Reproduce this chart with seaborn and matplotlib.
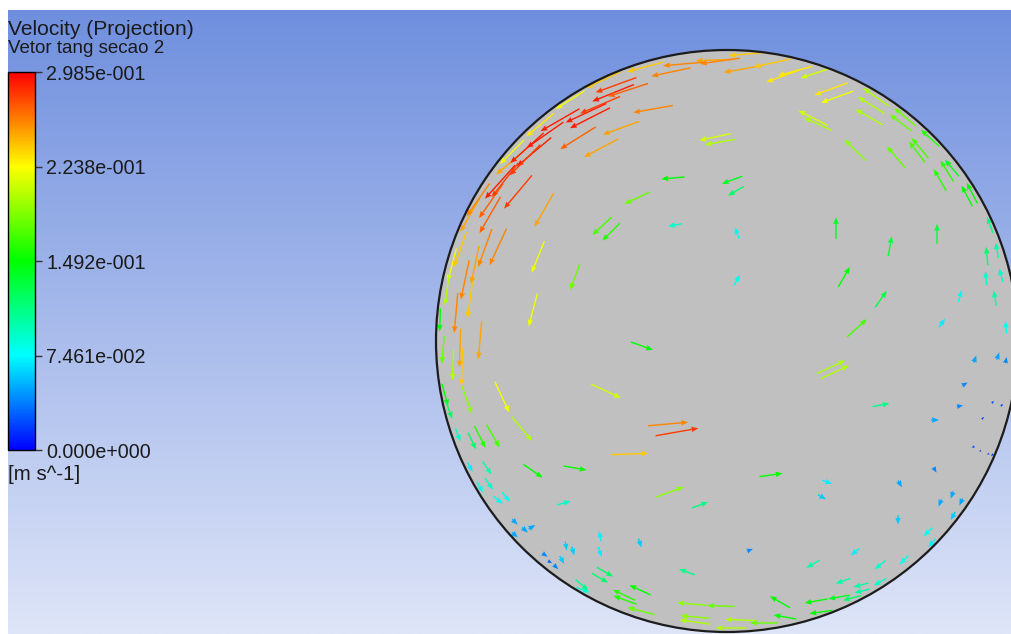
import numpy as np
import matplotlib
matplotlib.use("Agg")
import matplotlib.pyplot as plt
import seaborn as sns
from matplotlib.patches import Circle
from matplotlib.colors import Normalize, LinearSegmentedColormap
from matplotlib.cm import ScalarMappable

# ---------------------------------------------------------------------------
# Tangential velocity vectors on section 2 (pipe radius 291 mm, origin at centre)
# x, y in mm, speed in m/s, direction in degrees (counter-clockwise from +x)
# ---------------------------------------------------------------------------
x_mm = [
    -12, -44, -56, -82, -111, -114, -141, -137, -74, -106,
    -149, -126, -182, -193, -202, -216, -236, -227, -209, -183,
    -242, -229, -252, -189, -152, -125, -116, -90, -54, -52,
    -12, -7, 5, 9, 10, 20, -7, 16, 56, 45,
    68, 104, 110, 89, 149, 144, 142, 178, 174, 86,
    91, 128, 169, 193, 190, 203, 213, 220, 225, 240,
    245, 263, 260, 270, 274, 259, 268, 279, 210, 109,
    163, 10, 117, 154, 130, 215, 233, 104, 108, 154,
    208, 44, 100, 95, -27, -85, -121, -59, -50, -97,
    -57, -152, -194, -163, -271, -267, -265, -284, -274, -247,
    -194, -260, -225, -205, -247, -234, -269, -255, -240, -238,
    -247, -229, -221, -212, -195, -127, -127, -87, -161, -154,
    -165, -171, -145, -127, -122, -103, -102, -87, -86, -35,
    -32, -32, -6, -40, 14, 4, 37, 53, 58, 86,
    128, 153, 177, 116, 134, 135, 112, 89, 94, 125,
    153, 205, 201, 171, 213, 225, 234, 226, 173, 208,
    23, 248, 271, 279, 238, 233, 266, 275, 256, 246,
    253, 261, 265, -282, -278, -257, -212, -202, -182, -177,
    -144, -275, -267, -280, -257, -249, -262, -287, -124, -157,
    -187, -215, -167, -200, -222, -237, -127, -99, -257,
]
y_mm = [
    281, 277, 269, 274, 256, 248, 228, 223, 232, 213,
    203, 193, 206, 189, 181, 179, 140, 159, 149, 131,
    93, 94, 76, 84, 64, 115, 109, 143, 163, 116,
    204, 199, 161, 150, 108, 287, 280, 272, 265, 278,
    270, 252, 244, 268, 244, 236, 224, 224, 218, 223,
    217, 191, 184, 193, 189, 203, 161, 170, 173, 145,
    148, 116, 85, 91, 66, 63, 43, 14, 107, 113,
    95, 61, 64, 42, 13, 18, 45, -26, -31, -64,
    -79, -134, -141, -156, -164, -5, -50, -83, -91, -113,
    -151, -127, -130, -162, 28, -7, -26, -9, -24, 1,
    31, -59, -56, -88, -96, -95, -94, -100, -127, -143,
    -146, -159, -156, -194, -186, -195, -211, -202, -205, -210,
    -219, -226, -244, -237, -231, -254, -259, -249, -270, -263,
    -276, -281, -265, -231, -279, -287, -282, -261, -276, -223,
    -211, -224, -219, -240, -244, -250, -256, -260, -271, -257,
    -241, -202, -191, -179, -162, -154, -161, -175, -143, -129,
    -209, -18, -15, -19, -43, -65, -61, -64, -77, -106,
    -110, -113, -114, -54, -69, -126, -181, -189, -214, -221,
    -249, 76, 91, 51, 126, 141, 61, 21, 261, 241,
    216, 189, 221, 193, 161, 126, 236, 251, 41,
]
speed = [
    0.25, 0.26, 0.26, 0.24, 0.28, 0.29, 0.29, 0.29, 0.26, 0.25,
    0.27, 0.25, 0.29, 0.29, 0.28, 0.25, 0.27, 0.29, 0.28, 0.25,
    0.26, 0.26, 0.25, 0.22, 0.18, 0.17, 0.16, 0.18, 0.15, 0.09,
    0.21, 0.20, 0.14, 0.12, 0.08, 0.24, 0.26, 0.25, 0.23, 0.24,
    0.23, 0.23, 0.22, 0.21, 0.20, 0.20, 0.20, 0.18, 0.18, 0.21,
    0.20, 0.19, 0.18, 0.17, 0.17, 0.16, 0.16, 0.16, 0.14, 0.15,
    0.15, 0.11, 0.12, 0.10, 0.09, 0.09, 0.10, 0.08, 0.13, 0.14,
    0.13, 0.08, 0.15, 0.13, 0.17, 0.07, 0.08, 0.20, 0.20, 0.11,
    0.05, 0.15, 0.07, 0.06, 0.11, 0.15, 0.21, 0.26, 0.28, 0.24,
    0.19, 0.15, 0.15, 0.09, 0.26, 0.25, 0.24, 0.18, 0.20, 0.25,
    0.22, 0.19, 0.22, 0.20, 0.16, 0.17, 0.09, 0.12, 0.10, 0.09,
    0.08, 0.08, 0.08, 0.05, 0.05, 0.07, 0.07, 0.06, 0.06, 0.06,
    0.06, 0.04, 0.11, 0.12, 0.12, 0.16, 0.16, 0.15, 0.18, 0.19,
    0.19, 0.20, 0.18, 0.11, 0.20, 0.20, 0.18, 0.15, 0.15, 0.10,
    0.07, 0.09, 0.08, 0.10, 0.10, 0.10, 0.14, 0.15, 0.15, 0.12,
    0.09, 0.07, 0.08, 0.06, 0.05, 0.05, 0.05, 0.06, 0.05, 0.04,
    0.04, 0.05, 0.05, 0.04, 0.04, 0.04, 0.02, 0.02, 0.02, 0.02,
    0.015, 0.015, 0.02, 0.15, 0.12, 0.07, 0.05, 0.05, 0.04, 0.03,
    0.09, 0.22, 0.24, 0.20, 0.25, 0.26, 0.26, 0.15, 0.24, 0.22,
    0.23, 0.22, 0.29, 0.29, 0.28, 0.27, 0.28, 0.27, 0.24,
]
direction_deg = [
    182, 185, 192, 195, 200, 202, 205, 207, 190, 200,
    212, 208, 215, 220, 225, 220, 235, 228, 230, 240,
    250, 245, 258, 248, 250, 223, 225, 205, 185, 190,
    192, 190, 200, 210, 110, 185, 188, 190, 200, 192,
    195, 200, 200, 198, 145, 148, 150, 140, 143, 153,
    155, 135, 130, 130, 128, 138, 120, 122, 130, 118,
    118, 110, 95, 100, 105, 95, 100, 95, 90, 90,
    80, 60, 60, 55, 42, 55, 75, 25, 25, 10,
    0, 8, 340, 330, 20, 340, 335, 5, 10, 2,
    20, 350, 325, 15, 265, 268, 268, 265, 268, 265,
    255, 290, 295, 310, 297, 300, 290, 295, 305, 305,
    300, 320, 310, 320, 30, 100, 290, 290, 280, 285,
    300, 315, 320, 330, 330, 155, 160, 155, 165, 175,
    175, 172, 178, 160, 178, 180, 180, 150, 170, 210,
    220, 220, 225, 200, 195, 195, 190, 190, 188, 195,
    210, 230, 225, 270, 250, 250, 245, 240, 300, 300,
    20, 70, 70, 80, 30, 10, 45, 45, 45, 200,
    200, 200, 210, 285, 290, 300, 315, 320, 325, 330,
    340, 255, 250, 262, 240, 235, 258, 268, 205, 212,
    220, 225, 210, 222, 232, 240, 203, 198, 262,
]

pipe_radius_mm = 291
legend_ticks = [0.0, 0.07461, 0.1492, 0.2238, 0.2985]
legend_labels = ["0.000e+000", "7.461e-002", "1.492e-001", "2.238e-001", "2.985e-001"]
speed_max = 0.2985

# ---------------------------------------------------------------------------
sns.set_theme(style="white")
plt.rcParams["font.family"] = ["Liberation Sans", "DejaVu Sans"]

W, H = 1012, 634
fig = plt.figure(figsize=(W / 100, H / 100), dpi=100, facecolor="white")

# viewport background: vertical blue-to-white gradient
bg = fig.add_axes([8 / W, 0, 1 - 8 / W, 1 - 10 / H])
bg_cmap = LinearSegmentedColormap.from_list(
    "viewport", [(111 / 255, 143 / 255, 222 / 255), (222 / 255, 229 / 255, 248 / 255)])
bg.imshow(np.linspace(0, 1, 512)[:, None], aspect="auto", cmap=bg_cmap,
          extent=[0, 1, 0, 1], interpolation="bilinear")
bg.set_axis_off()

# rainbow legend colormap (blue - cyan - green - yellow - red)
vel_cmap = sns.blend_palette(["#0000ff", "#00ffff", "#00ff00", "#ffff00", "#ff0000"],
                             as_cmap=True)
norm = Normalize(vmin=0.0, vmax=speed_max)

# section view, 1 mm per pixel
ax = fig.add_axes([0, 0, 1, 1])
ax.set_xlim(-727, 285)
ax.set_ylim(-293, 341)
ax.set_aspect("equal")
ax.set_axis_off()
ax.patch.set_alpha(0)

section = Circle((0, 0), pipe_radius_mm, facecolor="#c0c0c0", edgecolor="none", zorder=1)
ax.add_patch(section)

spd = np.asarray(speed)
ang = np.deg2rad(direction_deg)
u = spd * np.cos(ang)
v = spd * np.sin(ang)

q = ax.quiver(x_mm, y_mm, u, v, spd, cmap=vel_cmap, norm=norm,
              angles="xy", scale_units="xy", scale=1 / 155, pivot="middle",
              units="xy", width=1.4, headwidth=4.0, headlength=5.0,
              headaxislength=4.5, zorder=2)
q.set_clip_path(section)

ax.add_patch(Circle((0, 0), pipe_radius_mm, fill=False, edgecolor="#1c1c1c",
                    linewidth=1.6, zorder=3))

# legend
cax = fig.add_axes([8 / W, 1 - 450 / H, 27 / W, 378 / H])
cb = fig.colorbar(ScalarMappable(norm=norm, cmap=vel_cmap), cax=cax, ticks=legend_ticks)
cb.set_ticklabels(legend_labels)
cb.outline.set_edgecolor("black")
cb.outline.set_linewidth(1.0)
cax.tick_params(axis="y", direction="out", length=5, width=1, color="#333333",
                labelsize=14.1, labelcolor="#1a1a1a", pad=3)

fig.text(8 / W, 1 - 35 / H, "Velocity (Projection)", fontsize=15.1,
         color="#1a1a1a", va="baseline", ha="left")
fig.text(8 / W, 1 - 53 / H, "Vetor tang secao 2", fontsize=13.5,
         color="#1a1a1a", va="baseline", ha="left")
fig.text(8 / W, 1 - 474 / H, "[m s^-1]", fontsize=14.8,
         color="#1a1a1a", va="center", ha="left")

fig.savefig("out.png", dpi=100, facecolor="white")
